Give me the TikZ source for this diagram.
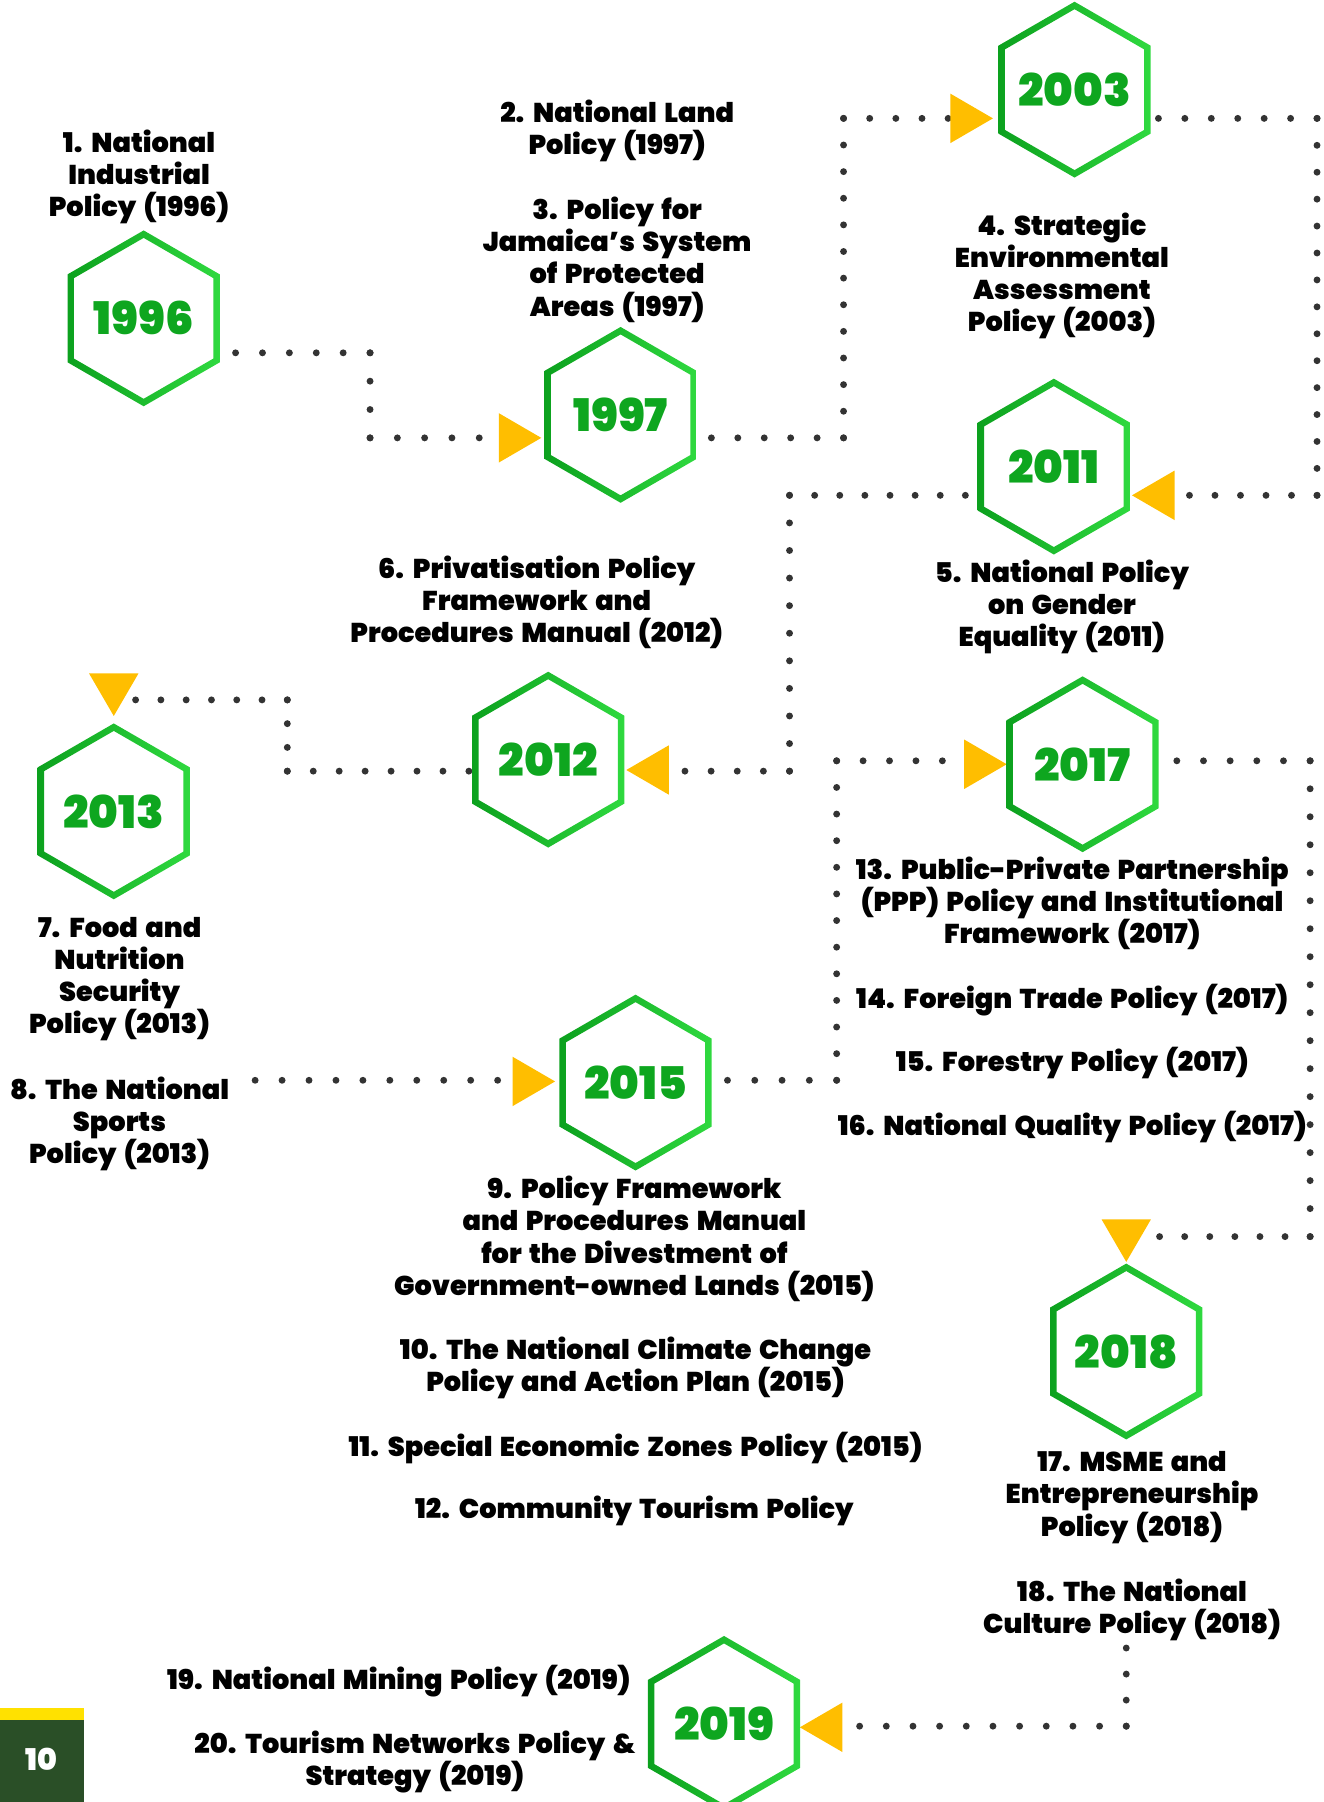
\documentclass[tikz,border=0pt]{standalone}
\usepackage{fontspec}
\setmainfont{Poppins}
\newfontfamily\heavy{Poppins Black}[WordSpace=1.6]
\usetikzlibrary{calc}
\definecolor{hexL}{HTML}{0CA11E}
\definecolor{hexR}{HTML}{2FD93F}
\definecolor{yeargreen}{HTML}{0EA61F}
\definecolor{dotgray}{HTML}{333333}
\definecolor{arrowamber}{HTML}{FFBE00}
\definecolor{pagegreen}{HTML}{2A4F27}
\definecolor{pageyellow}{HTML}{FFE100}
\tikzset{
  policy/.style={font=\heavy\fontsize{13.6}{16.1}\selectfont, align=center, inner sep=0pt, text=black},
  yearlabel/.style={font=\heavy\fontsize{22.5}{24}\selectfont, text=yeargreen, inner sep=0pt},
  hexring/.style={left color=hexL, right color=hexR, even odd rule},
  marker/.style={fill=arrowamber},
  dotstyle/.style={fill=dotgray},
}
\newcommand\hexat[3]{%
  \shade[hexring] #2 +(90:76.5) -- +(150:76.5) -- +(210:76.5) -- +(270:76.5) -- +(330:76.5) -- +(30:76.5) -- cycle
     #2 +(90:70) -- +(150:70) -- +(210:70) -- +(270:70) -- +(330:70) -- +(30:70) -- cycle;
  \node[yearlabel] (#1) at #2 {#3};
}
\newcommand\dotrow[3]{%
  \foreach \i in {0,...,#3} \fill[dotstyle] ($#1!\i/#3!#2$) circle[radius=3];
}
\newcommand\trimark[3]{%
  \coordinate (#1) at #2;
  \fill[marker, shift={#2}, rotate=#3] (0,0) -- (-37,21.5) -- (-37,-21.5) -- cycle;
}
\begin{document}
\begin{tikzpicture}[x=0.575pt, y=-0.575pt]
\useasboundingbox (0,0) rectangle (1152,1568);
\clip (0,0) rectangle (1152,1568);

% ---------- dotted connectors ----------
% 1996 -> 1997
\coordinate (a0) at (205,307); \coordinate (a1) at (322,307);
\coordinate (a2) at (322,381); \coordinate (a3) at (417,381);
\dotrow{(a0)}{(a1)}{5} \dotrow{(a1)}{(a2)}{3} \dotrow{(a2)}{(a3)}{4}
% 1997 -> 2003
\coordinate (b0) at (619,381); \coordinate (b1) at (734,381);
\coordinate (b2) at (734,103); \coordinate (b3) at (825,103);
\dotrow{(b0)}{(b1)}{5} \dotrow{(b1)}{(b2)}{12} \dotrow{(b2)}{(b3)}{4}
% 2003 -> 2011
\coordinate (c0) at (1008,103); \coordinate (c1) at (1146,103);
\coordinate (c2) at (1146,431); \coordinate (c3) at (1035,431);
\dotrow{(c0)}{(c1)}{6} \dotrow{(c1)}{(c2)}{14} \dotrow{(c2)}{(c3)}{5}
% 2011 -> 2012
\coordinate (d0) at (840,431); \coordinate (d1) at (687,431);
\coordinate (d2) at (687,671); \coordinate (d3) at (596,671);
\dotrow{(d0)}{(d1)}{7} \dotrow{(d1)}{(d2)}{10} \dotrow{(d2)}{(d3)}{4}
% 2012 -> 2013
\coordinate (e0) at (408,671); \coordinate (e1) at (250,671);
\coordinate (e2) at (250,609); \coordinate (e3) at (118,609);
\dotrow{(e0)}{(e1)}{7} \dotrow{(e1)}{(e2)}{3} \dotrow{(e2)}{(e3)}{6}
% 2013 -> 2015
\coordinate (f0) at (222,940); \coordinate (f1) at (433,940);
\dotrow{(f0)}{(f1)}{9}
% 2015 -> 2017
\coordinate (g0) at (633,940); \coordinate (g1) at (728,940);
\coordinate (g2) at (728,662); \coordinate (g3) at (820,662);
\dotrow{(g0)}{(g1)}{4} \dotrow{(g1)}{(g2)}{12} \dotrow{(g2)}{(g3)}{4}
% 2017 -> 2018
\coordinate (h0) at (1024,662); \coordinate (h1) at (1140,662);
\coordinate (h2) at (1140,1076); \coordinate (h3) at (1009,1076);
\dotrow{(h0)}{(h1)}{5} \dotrow{(h1)}{(h2)}{17} \dotrow{(h2)}{(h3)}{6}
% 2018 -> 2019
\coordinate (i0) at (980,1434); \coordinate (i1) at (980,1502);
\coordinate (i2) at (748,1502);
\dotrow{(i0)}{(i1)}{3} \dotrow{(i1)}{(i2)}{10}

% ---------- markers ----------
\trimark{t97}{(471,381)}{0}
\trimark{t03}{(864,103)}{0}
\trimark{t11}{(985,431)}{180}
\trimark{t12}{(545,670)}{180}
\trimark{t13}{(99,623)}{-90}
\trimark{t15}{(483,941)}{0}
\trimark{t17}{(876,665)}{0}
\trimark{t18}{(980,1098)}{-90}
\trimark{t19}{(696,1503)}{180}

% ---------- hexagons ----------
\hexat{y96}{(125,277)}{1996}
\hexat{y97}{(540,361)}{1997}
\hexat{y03}{(935,78)}{2003}
\hexat{y11}{(917,406)}{2011}
\hexat{y12}{(477,661)}{2012}
\hexat{y13}{(99,706)}{2013}
\hexat{y15}{(553,942)}{2015}
\hexat{y17}{(942,665)}{2017}
\hexat{y18}{(980,1176)}{2018}
\hexat{y19}{(630,1500)}{2019}

% ---------- policy texts ----------
\node[policy] (p1) at (121,154) {1. National\\Industrial\\Policy (1996)};
\node[policy] (p2) at (537,114) {2. National Land\\Policy (1997)};
\node[policy] (p3) at (537,226) {3. Policy for\\Jamaica’s System\\of Protected\\Areas (1997)};
\node[policy] (p4) at (924,240) {4. Strategic\\Environmental\\Assessment\\Policy (2003)};
\node[policy] (p5) at (924,528) {5. National Policy\\on Gender\\Equality (2011)};
\node[policy] (p6) at (467,524) {6. Privatisation Policy\\Framework and\\Procedures Manual (2012)};
\node[policy] (p7) at (104,852) {7. Food and\\Nutrition\\Security\\Policy (2013)};
\node[policy] (p8) at (104,978) {8. The National\\Sports\\Policy (2013)};
\node[policy] (p9) at (552,1078) {9. Policy Framework\\and Procedures Manual\\for the Divestment of\\Government-owned Lands (2015)};
\node[policy] (p10) at (553,1190) {10. The National Climate Change\\Policy and Action Plan (2015)};
\node[policy] (p11) at (553,1260) {11. Special Economic Zones Policy (2015)};
\node[policy] (p12) at (552,1315) {12. Community Tourism Policy};
\node[policy] (p13) at (933,786) {13. Public-Private Partnership\\(PPP) Policy and Institutional\\Framework (2017)};
\node[policy] (p14) at (933,870) {14. Foreign Trade Policy (2017)};
\node[policy] (p15) at (933,925) {15. Forestry Policy (2017)};
\node[policy] (p16) at (933,981) {16. National Quality Policy (2017)};
\node[policy] (p17) at (985,1303) {17. MSME and\\Entrepreneurship\\Policy (2018)};
\node[policy] (p18) at (985,1401) {18. The National\\Culture Policy (2018)};
\node[policy] (p19) at (347,1463) {19. National Mining Policy (2019)};
\node[policy] (p20) at (361,1533) {20. Tourism Networks Policy \&\\Strategy (2019)};

% ---------- page number ----------
\fill[pageyellow] (0,1486) rectangle (73,1497);
\fill[pagegreen] (0,1497) rectangle (73,1568);
\node[font=\heavy\fontsize{15}{18}\selectfont, text=white, inner sep=0pt] (pg) at (36,1531) {10};
\end{tikzpicture}
\end{document}
